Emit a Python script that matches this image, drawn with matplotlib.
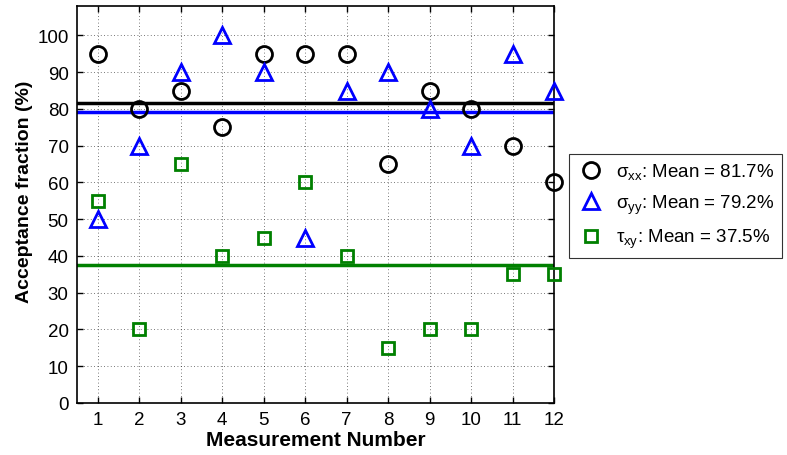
import matplotlib
matplotlib.use("Agg")
import matplotlib.pyplot as plt

plt.rcParams['font.family'] = ['Liberation Sans', 'DejaVu Sans']
plt.rcParams['mathtext.fontset'] = 'custom'
plt.rcParams['mathtext.rm'] = 'Liberation Sans'
plt.rcParams['mathtext.it'] = 'Liberation Sans'

# Data
measurement = list(range(1, 13))
sigma_xx = [95, 80, 85, 75, 95, 95, 95, 65, 85, 80, 70, 60]
sigma_yy = [50, 70, 90, 100, 90, 45, 85, 90, 80, 70, 95, 85]
tau_xy = [55, 20, 65, 40, 45, 60, 40, 15, 20, 20, 35, 35]

green = (0, 0.5, 0)
series = [
    (sigma_xx, 'k', 'o', r'$\sigma_{xx}$', 11.5),
    (sigma_yy, 'b', '^', r'$\sigma_{yy}$', 12),
    (tau_xy, green, 's', r'$\tau_{xy}$', 8.5),
]

fig = plt.figure(figsize=(7.87, 4.56), dpi=100)
ax = fig.add_axes([77 / 787, 1 - 404 / 456, (554 - 77) / 787, (404 - 7) / 456])

for values, color, marker, name, ms in series:
    mean = sum(values) / len(values)
    ax.plot(measurement, values, linestyle='none', marker=marker, markersize=ms,
            markerfacecolor='none', markeredgecolor=color, markeredgewidth=2,
            clip_on=False, zorder=3,
            label=f'{name}: Mean = {mean:.1f}%')
    ax.axhline(mean, color=color, linewidth=2.5, zorder=2)

ax.set_xlim(0.5, 12)
ax.set_ylim(0, 108)
ax.set_xticks(measurement)
ax.set_yticks(range(0, 101, 10))
ax.grid(True, linestyle=(0, (1, 3)), color='k', linewidth=0.6, alpha=0.7)
ax.tick_params(direction='in', top=True, right=True, labelsize=13.5, length=4,
               width=1, pad=6)
for s in ax.spines.values():
    s.set_linewidth(1.2)

ax.set_xlabel('Measurement Number', fontsize=15, fontweight='bold', labelpad=1)
ax.set_ylabel('Acceptance fraction (%)', fontsize=14, fontweight='bold')
ax.yaxis.set_label_coords(-0.093, 0.534)

leg = ax.legend(loc='upper left', bbox_to_anchor=(569 / 787, 1 - 155 / 456),
                bbox_transform=fig.transFigure, fontsize=13.5, frameon=True,
                fancybox=False, edgecolor='k', borderpad=0.4, borderaxespad=0,
                handletextpad=0.6, handlelength=1.5, labelspacing=0.6)
leg.get_frame().set_linewidth(0.8)

fig.savefig('out.png', dpi=100)
